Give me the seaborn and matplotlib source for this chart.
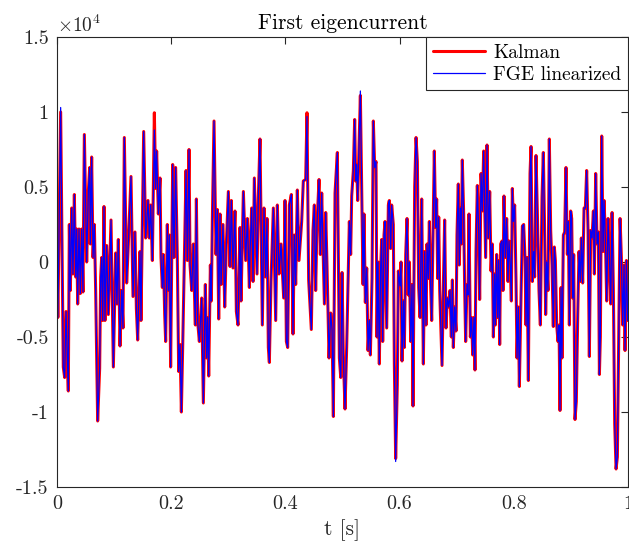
import numpy as np
import pandas as pd
import matplotlib
matplotlib.use("Agg")
import matplotlib.pyplot as plt
import seaborn as sns

# ---- data (current values in units of 1e4) ----
t = [
 0.0, 0.0015, 0.0064, 0.011, 0.0134, 0.0158, 0.0198, 0.0216, 0.0234, 0.0257, 0.028, 0.0304, 0.0327, 0.0344, 0.0362,
 0.0385, 0.0409, 0.0432, 0.0455, 0.0479, 0.052, 0.0549, 0.0572, 0.0584, 0.0607, 0.0631, 0.0654, 0.0677, 0.0712, 0.0747,
 0.0765, 0.0782, 0.0800, 0.0823, 0.084, 0.087, 0.0899, 0.0946, 0.0987, 0.1027, 0.105, 0.1074, 0.1103, 0.1132, 0.1156,
 0.1179, 0.122, 0.1249, 0.1296, 0.1331, 0.1366, 0.139, 0.1413, 0.1454, 0.1471, 0.1518, 0.1553, 0.1594, 0.1617, 0.1641,
 0.167, 0.1705,
 0.1728, 0.1745, 0.1775, 0.1804, 0.1821, 0.1845, 0.1862, 0.1886, 0.1903, 0.1932, 0.195, 0.1967, 0.199, 0.2026, 0.2049,
 0.2078, 0.2107, 0.2131, 0.2154, 0.2178, 0.2201, 0.226, 0.2283, 0.2312, 0.233, 0.2359, 0.2388, 0.2406, 0.2423, 0.2441,
 0.2464, 0.2493, 0.2534, 0.2563, 0.2598, 0.2621, 0.2639, 0.2657, 0.2686, 0.2703, 0.2721, 0.2750, 0.2785, 0.2808, 0.2832,
 0.2855, 0.2873, 0.2907, 0.2937, 0.2966, 0.3001, 0.303, 0.3053, 0.3082, 0.3117, 0.3141, 0.317, 0.3205, 0.3223, 0.3264,
 0.3304, 0.3334, 0.3369,
 0.338, 0.3409, 0.3433, 0.3456, 0.3503, 0.3526, 0.3555, 0.3596, 0.3625, 0.3655, 0.3678, 0.3701, 0.3719, 0.3748, 0.3789,
 0.383, 0.3859, 0.3888, 0.3923, 0.397, 0.3993, 0.4017, 0.404, 0.4069, 0.4104, 0.4133, 0.4157, 0.418, 0.4209, 0.4238,
 0.4285, 0.4314, 0.4355, 0.4378, 0.4407, 0.4454, 0.4483, 0.4507, 0.453, 0.4553, 0.4589, 0.4612, 0.4636, 0.4683, 0.4706,
 0.4729, 0.4764, 0.4793, 0.4817, 0.4840, 0.4869, 0.491, 0.4945, 0.4969, 0.4992,
 0.5015, 0.5044, 0.5073, 0.5096, 0.512, 0.5143, 0.5161, 0.519, 0.5213, 0.5231, 0.5248, 0.5266, 0.5289, 0.5313, 0.5342,
 0.536, 0.5377, 0.54, 0.5424, 0.5447, 0.547, 0.5488, 0.5517, 0.554, 0.5564, 0.5587, 0.5604, 0.5622, 0.5645, 0.5668,
 0.5686, 0.5704, 0.5727, 0.5744, 0.5774, 0.5803, 0.582, 0.5844, 0.5861, 0.589, 0.5908, 0.5931, 0.596, 0.5978, 0.6007,
 0.6025, 0.6042, 0.6066, 0.6083, 0.6107, 0.613, 0.6153, 0.6171, 0.6194, 0.6218, 0.6235, 0.6264, 0.6288, 0.6311, 0.6334,
 0.6358, 0.6387, 0.6416, 0.6439, 0.6463, 0.648, 0.6503, 0.6521, 0.6544, 0.6562, 0.6608, 0.6632, 0.6649,
 0.6667, 0.6685, 0.6702, 0.6743, 0.6766, 0.6789, 0.6813, 0.6836, 0.686, 0.6883, 0.6906, 0.6924, 0.6941, 0.6964, 0.6988,
 0.7005, 0.7028, 0.7046, 0.7064, 0.7081, 0.7098, 0.7122, 0.714, 0.7157, 0.718, 0.7198, 0.7215, 0.7239, 0.7262, 0.728,
 0.7303, 0.732, 0.7338, 0.7361, 0.7385, 0.7402, 0.7426, 0.7449, 0.7472, 0.7507, 0.7531, 0.7554, 0.7578, 0.7601, 0.7624,
 0.7642, 0.7665, 0.7677, 0.77, 0.7718, 0.7735, 0.7753, 0.777, 0.7793, 0.7811, 0.7828, 0.7852, 0.7875, 0.7898, 0.7916,
 0.7939, 0.7957, 0.7974, 0.7992, 0.8015, 0.8039, 0.8056, 0.8079, 0.8097, 0.8126, 0.815, 0.8173, 0.8196, 0.8214, 0.8231,
 0.8255, 0.8284, 0.8302, 0.8325, 0.8348,
 0.8365, 0.8389, 0.8412, 0.8441, 0.8465, 0.8494, 0.8517, 0.854, 0.8558, 0.8576, 0.8599, 0.8622, 0.8646, 0.8669, 0.8692,
 0.871, 0.8728, 0.8751, 0.8774, 0.8792, 0.8809, 0.8827, 0.8844, 0.8868, 0.8891, 0.8914, 0.8938, 0.8955, 0.8973, 0.8996,
 0.9014, 0.9031, 0.9049, 0.9072, 0.9095, 0.9119, 0.9142, 0.9165, 0.9183, 0.9206, 0.923, 0.9253, 0.9276, 0.93, 0.9323,
 0.9347, 0.937, 0.9394, 0.9411, 0.9434, 0.9458, 0.9481, 0.9499, 0.9516, 0.954, 0.9563, 0.9581, 0.9604, 0.9627, 0.9651,
 0.9674, 0.9697, 0.9721, 0.9744, 0.9767, 0.9791, 0.9814, 0.9837, 0.9861, 0.9884, 0.9907, 0.9931, 0.9948, 0.9972, 0.9995,
 1.0,
]

kalman = [
 -0.02, -0.37, 1.0, -0.70, -0.77, -0.33, -0.86, 0.25, -0.19, 0.36, -0.08, 0.45, -0.10, 0.22, -0.28,
 0.22, -0.21, 0.22, -0.20, 0.85, 0.0, 0.47, 0.63, 0.12, 0.70, 0.03, 0.25, -0.19, -1.06, -0.71,
 -0.10, 0.03, -0.39, 0.37, -0.39, 0.11, -0.35, 0.28, -0.70, 0.06, -0.28, 0.15, -0.56, -0.19, -0.44,
 0.83, -0.14, 0.12, 0.57, -0.23, 0.20, -0.31, -0.52, 0.07, -0.39, 0.87, 0.16, 0.41, 0.16, 0.38,
 0.01, 0.995,
 0.49, 0.74, 0.32, 0.56, 0.03, -0.17, 0.05, -0.35, -0.53, 0.25, -0.19, 0.18, -0.70, 0.65, 0.03,
 0.63, 0.03, -0.73, -0.55, -1.0, -0.57, 0.61, 0.01, 0.75, -0.02, -0.19, 0.12, -0.19, -0.42, 0.42,
 -0.40, -0.53, -0.24, -0.94, -0.15, -0.64, -0.37, -0.76, -0.02, -0.26, 0.29, 0.94, 0.05, 0.35, -0.38,
 0.32, -0.15, 0.25, -0.30, 0.12, 0.47, -0.03, 0.41, -0.04, 0.34, -0.33, -0.42, 0.23, -0.26, 0.47,
 0.01, 0.29, -0.17,
 0.06, 0.36, -0.13, 0.56, -0.08, 0.43, 0.82, -0.42, 0.36, -0.10, 0.29, -0.57, -0.67, -0.13, 0.36,
 -0.39, 0.38, -0.08, 0.12, -0.24, 0.41, -0.53, -0.57, 0.38, 0.45, -0.48, 0.18, -0.15, 0.48, 0.01,
 0.27, 0.54, 0.55, 0.995, -0.12, -0.45, 0.21, 0.38, -0.19, 0.25, 0.55, 0.05, 0.46, -0.28, 0.33,
 -0.03, -0.64, -0.34, -0.45, -1.03, 0.46, 0.73, -0.64, -0.77, -0.07,
 -0.64, -0.98, -0.57, -0.17, 0.27, 0.05, 0.44, 0.61, 0.95, 0.54, 0.65, 0.41, 0.77, 1.11, 0.32,
 -0.15, 0.32, -0.27, -0.04, -0.59, -0.39, -0.62, -0.11, 0.94, 0.63, 0.67, -0.50, 0.0, -0.68, -0.04,
 0.15, -0.53, 0.18, 0.27, -0.44, 0.38, 0.41, 0.09, 0.38, 0.25, -0.68, -1.31, -0.82, -0.06, -0.16,
 0.0, -0.66, -0.26, -0.57, 0.05, 0.29, -0.22, 0.0, -0.53, -0.15, -0.96, 0.50, 0.83, 0.67, -0.17,
 -0.37, 0.42, -0.68, 0.07, -0.42, 0.12, -0.11, 0.27, -0.17, -0.39, 0.74, 0.23, 0.42,
 -0.11, 0.30, -0.19, -0.69, -0.17, 0.28, -0.44, -0.24, -0.30, -0.19, -0.50, -0.12, -0.57, -0.30, -0.46,
 0.18, 0.52, -0.02, 0.36, 0.12, 0.68, 0.32, -0.19, -0.53, -0.15, -0.22, 0.32, -0.50, -0.37, -0.62,
 -0.37, -0.72, 0.07, 0.51, 0.21, -0.25, 0.59, 0.34, 0.74, 0.03, 0.78, 0.16, 0.47, -0.06, 0.12,
 -0.50, -0.08, -0.42, 0.05, -0.37, 0.01, -0.55, 0.12, 0.14, -0.19, 0.44, 0.03, 0.29, -0.13, 0.14,
 -0.02, -0.26, 0.49, 0.27, 0.38, -0.13, -0.64, -0.30, -0.83, -0.24, 0.24, 0.25, 0.03, -0.42, 0.03,
 -0.79, 0.59, 0.77, -0.13, 0.07,
 -0.10, 0.71, 0.34, -0.19, -0.42, 0.43, 0.73, 0.21, -0.35, 0.0, -0.19, 0.82, 0.21, -0.02, -0.43,
 0.10, 0.01, -0.42, -0.53, -0.42, -0.99, -0.17, -0.64, 0.18, 0.20, 0.63, 0.05, 0.27, -0.42, 0.34,
 0.29, -0.24, 0.05, -1.05, -0.93, -0.37, 0.07, -0.13, 0.16, -0.14, 0.36, 0.36, 0.61, 0.21, -0.63,
 0.21, 0.16, 0.34, -0.08, 0.59, 0.12, 0.20, -0.75, -0.50, 0.84, 0.07, 0.41, 0.16, -0.26, 0.29,
 0.05, -0.28, 0.33, -0.19, -1.08, -1.38, -1.30, -0.50, 0.29, 0.03, -0.42, -0.02, -0.59, 0.01, -0.39,
 -0.39,
]

# points where the FGE linearized estimate departs visibly from the Kalman one
fge_diff_t = [0.0064, 0.1705, 0.4378, 0.5313, 0.5931]
fge_diff_v = [1.03, 0.88, 0.97, 1.14, -1.33]

fge = list(kalman)
for tt, vv in zip(fge_diff_t, fge_diff_v):
    fge[t.index(tt)] = vv

y_ticks = [-1.5, -1, -0.5, 0, 0.5, 1, 1.5]
y_tick_labels = ["-1.5", "-1", "-0.5", "0", "0.5", "1", "1.5"]
x_ticks = [0, 0.2, 0.4, 0.6, 0.8, 1]
x_tick_labels = ["0", "0.2", "0.4", "0.6", "0.8", "1"]
scale = 1e4

df = pd.concat([
    pd.DataFrame({"t": t, "I": np.array(kalman) * scale, "series": "Kalman"}),
    pd.DataFrame({"t": t, "I": np.array(fge) * scale, "series": "FGE linearized"}),
], ignore_index=True)

# ---- style ----
sns.set_style("white")
plt.rcParams["font.family"] = ["cmr10", "DejaVu Serif"]
plt.rcParams["mathtext.fontset"] = "cm"
plt.rcParams["axes.unicode_minus"] = False

fig = plt.figure(figsize=(6.29, 5.48), dpi=100)
ax = fig.add_axes([57 / 629, 1 - 487 / 548, 571 / 629, 450 / 548])

sns.lineplot(data=df[df.series == "Kalman"], x="t", y="I", ax=ax, color="#ff0000",
             linewidth=2.2, estimator=None, sort=False, label="Kalman")
sns.lineplot(data=df[df.series == "FGE linearized"], x="t", y="I", ax=ax, color="#0000ff",
             linewidth=0.9, estimator=None, sort=False, label="FGE linearized")

ax.set_xlim(0, 1)
ax.set_ylim(-1.5 * scale, 1.5 * scale)
ax.set_xticks(x_ticks)
ax.set_xticklabels(x_tick_labels)
ax.set_yticks([v * scale for v in y_ticks])
ax.set_yticklabels(y_tick_labels)
ax.tick_params(direction="in", length=5, width=0.8, colors="#262626",
               labelsize=14.5, top=True, right=True, pad=6)
for lab in ax.get_xticklabels() + ax.get_yticklabels():
    lab.set_color("#262626")
for s in ax.spines.values():
    s.set_visible(True)
    s.set_color("#262626")
    s.set_linewidth(0.8)

ax.set_xlabel("t [s]", fontsize=15.5, color="#262626", labelpad=4)
ax.set_ylabel("")
ax.set_title("First eigencurrent", fontsize=15.5, color="#000000", pad=6)
ax.text(0.0, 1.003, r"$\times 10^{4}$", transform=ax.transAxes, fontsize=14,
        ha="left", va="bottom", color="#262626")

leg = ax.legend(loc="upper right", borderaxespad=0, fancybox=False, framealpha=1,
                edgecolor="#262626", fontsize=14, handlelength=2.7, borderpad=0.35,
                labelspacing=0.2, handletextpad=0.4)
leg.get_frame().set_linewidth(0.8)
for txt in leg.get_texts():
    txt.set_color("#000000")

fig.savefig("out.png", dpi=100)
